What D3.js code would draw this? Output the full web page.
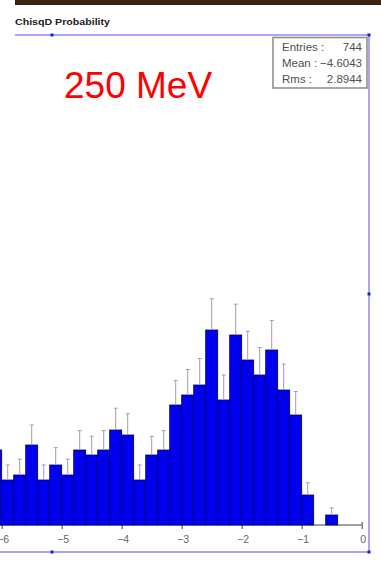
<!DOCTYPE html>
<html>
<head>
<meta charset="utf-8">
<script src="https://cdn.jsdelivr.net/npm/d3@7"></script>
<style>
  html, body { margin: 0; padding: 0; background: #ffffff; }
  svg { display: block; }
  text { font-family: "Liberation Sans", Arial, sans-serif; }
</style>
</head>
<body>
<svg id="chart" width="381" height="564"></svg>
<script>
// Histogram of the chi-square probability (log scale), 0.2-wide bins
const binLow = [-6.2, -6.0, -5.8, -5.6, -5.4, -5.2, -5.0, -4.8, -4.6, -4.4,
                -4.2, -4.0, -3.8, -3.6, -3.4, -3.2, -3.0, -2.8, -2.6, -2.4,
                -2.2, -2.0, -1.8, -1.6, -1.4, -1.2, -1.0, -0.8, -0.6, -0.4, -0.2];
const counts = [15, 9, 10, 16, 9, 12, 10, 15, 14, 15,
                19, 18, 9, 14, 15, 24, 26, 28, 39, 25,
                38, 33, 30, 35, 27, 22, 6, 0, 2, 0, 0];
const binWidth = 0.2;
const xTicks = [-6, -5, -4, -3, -2, -1, 0];

const title = "ChisqD Probability";
const energyLabel = "250 MeV";
const statNames = ["Entries :", "Mean :", "Rms :"];
const statValues = ["744", "\u22124.6043", "2.8944"];

const svg = d3.select("#chart");

// dark strip along the top edge
svg.append("rect").attr("x", 15).attr("y", 0).attr("width", 366).attr("height", 5)
  .attr("fill", "#3a2312");

// title
svg.append("text").attr("x", 15).attr("y", 25)
  .attr("font-size", 9.5).attr("font-weight", "bold").attr("fill", "#222")
  .attr("textLength", 95).attr("lengthAdjust", "spacingAndGlyphs")
  .text(title);

// scales
const x = d3.scaleLinear().domain([-6, 0]).range([1.7, 361.7]);
const y = d3.scaleLinear().domain([0, 40]).range([525, 325]);

// frame of the plot region
const frameColor = "#8a8af0";
svg.append("line").attr("x1", 15).attr("x2", 369).attr("y1", 35).attr("y2", 35)
  .attr("stroke", frameColor).attr("stroke-width", 1.5);
svg.append("line").attr("x1", 0).attr("x2", 369).attr("y1", 552).attr("y2", 552)
  .attr("stroke", frameColor).attr("stroke-width", 1.5);
svg.append("line").attr("x1", 369).attr("x2", 369).attr("y1", 35).attr("y2", 552)
  .attr("stroke", frameColor).attr("stroke-width", 1.5);
const handles = [[52, 35], [369, 35], [369, 294], [369, 552], [52, 552]];
svg.selectAll("rect.handle").data(handles).join("rect")
  .attr("class", "handle")
  .attr("x", d => d[0] - 1.5).attr("y", d => d[1] - 1.5)
  .attr("width", 3).attr("height", 3).attr("fill", "#2020c8");

// x axis
const axis = svg.append("g").attr("transform", `translate(0,${y(0)})`)
  .call(d3.axisBottom(x).tickValues(xTicks).tickSize(4).tickPadding(7)
    .tickFormat(d3.format("d")));
axis.select(".domain").remove();
axis.append("line").attr("x1", 0).attr("x2", x(0)).attr("y1", 0).attr("y2", 0)
  .attr("stroke", "#444").attr("stroke-width", 1);
axis.selectAll(".tick line").attr("y1", -3).attr("stroke", "#444");
axis.selectAll(".tick text").attr("fill", "#666").attr("font-size", 10.5)
  .attr("dx", 1)
  .attr("font-family", "Liberation Sans, Arial, sans-serif");

// bins
const bins = binLow.map((lo, i) => ({ lo, n: counts[i] })).filter(d => d.n > 0);

svg.append("g").selectAll("rect").data(bins).join("rect")
  .attr("x", d => x(d.lo)).attr("width", d => x(d.lo + binWidth) - x(d.lo))
  .attr("y", d => y(d.n)).attr("height", d => y(0) - y(d.n))
  .attr("fill", "#0000ee").attr("stroke", "#00006a").attr("stroke-width", 0.8);

// statistical error bars (upper half)
const err = svg.append("g").attr("stroke", "#a0a0a0").attr("stroke-width", 1);
err.selectAll("line.bar").data(bins).join("line").attr("class", "bar")
  .attr("x1", d => x(d.lo + binWidth / 2)).attr("x2", d => x(d.lo + binWidth / 2))
  .attr("y1", d => y(d.n)).attr("y2", d => y(d.n + Math.sqrt(d.n)));
err.selectAll("line.cap").data(bins).join("line").attr("class", "cap")
  .attr("x1", d => x(d.lo + binWidth / 2) - 2).attr("x2", d => x(d.lo + binWidth / 2) + 2)
  .attr("y1", d => y(d.n + Math.sqrt(d.n))).attr("y2", d => y(d.n + Math.sqrt(d.n)));

// statistics box
svg.append("rect").attr("x", 273).attr("y", 37.5).attr("width", 94).attr("height", 50.5)
  .attr("fill", "#fff").attr("stroke", "#8a8a8a").attr("stroke-width", 1.5);
statNames.forEach((s, i) => {
  svg.append("text").attr("x", 282).attr("y", 51 + i * 16)
    .attr("font-size", 11.5).attr("fill", "#505050").text(s);
  svg.append("text").attr("x", 362).attr("y", 51 + i * 16)
    .attr("text-anchor", "end").attr("font-size", 11.5).attr("fill", "#505050")
    .text(statValues[i]);
});

// beam energy label
svg.append("text").attr("x", 64).attr("y", 98)
  .attr("font-size", 37).attr("fill", "#ff0000").text(energyLabel);
</script>
</body>
</html>
